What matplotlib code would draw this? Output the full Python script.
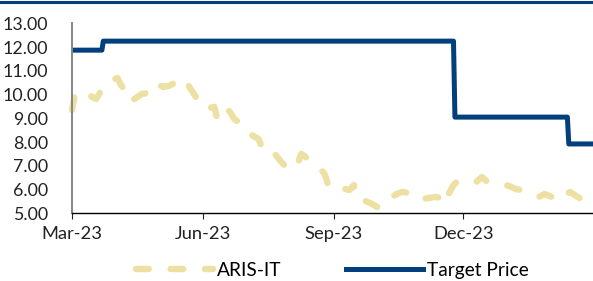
import numpy as np
import matplotlib
matplotlib.use("Agg")
import matplotlib.pyplot as plt
import matplotlib.dates as mdates
from matplotlib.lines import Line2D

plt.rcParams["font.family"] = ["Lato", "DejaVu Sans"]

# days counted from 1 Mar 2023
start = np.datetime64("2023-03-01")

aris_days = [0, 2, 5, 8, 13, 17, 20, 25, 28, 32, 34, 37, 39, 41, 45, 49, 53, 58, 60, 64,
             68, 72, 74, 78, 82, 87, 89, 92, 96, 100, 102, 104, 108, 111, 114, 118, 120,
             125, 131, 134, 137, 142, 147, 149, 152, 154, 157, 159, 161, 163, 166, 171,
             177, 179, 180, 185, 190, 192, 195, 198, 199, 202, 206, 211, 214, 218, 222,
             225, 228, 232, 236, 239, 241, 244, 247, 251, 256, 260, 262, 265, 268, 271,
             274, 277, 281, 284, 288, 291, 297, 302, 307, 312, 318, 323, 328, 332, 337,
             341, 346, 350, 354, 359, 361, 365]
aris_price = [9.35, 9.98, 10.15, 10.11, 9.94, 9.81, 10.11, 10.53, 10.61, 10.70, 10.44, 10.19,
              9.98, 9.69, 9.86, 10.02, 10.07, 10.11, 10.44, 10.32, 10.36, 10.49, 10.57, 10.70,
              10.36, 9.90, 9.60, 9.43, 9.43, 9.48, 8.97, 9.22, 9.43, 9.27, 8.97, 8.80, 8.55,
              8.34, 8.13, 7.71, 7.79, 7.54, 7.16, 7.04, 6.91, 7.12, 7.25, 7.16, 7.50, 7.42,
              7.29, 7.04, 6.70, 6.40, 6.11, 6.11, 6.11, 6.02, 5.98, 6.19, 5.69, 5.65, 5.52,
              5.39, 5.27, 5.27, 5.48, 5.69, 5.81, 5.90, 5.86, 5.86, 5.69, 5.65, 5.61, 5.65,
              5.69, 5.61, 5.39, 5.86, 6.19, 6.36, 6.40, 6.40, 6.36, 6.32, 6.53, 6.36, 6.32,
              6.23, 6.15, 6.02, 5.94, 5.86, 5.69, 5.81, 5.69, 5.52, 5.77, 5.90, 5.73, 5.56,
              5.86, 5.56]

target_days = [0, 21, 22, 268, 269, 348, 349, 368]
target_price = [11.87, 11.87, 12.25, 12.25, 9.05, 9.05, 7.92, 7.92]

xticks = ["2023-03-01", "2023-06-01", "2023-09-01", "2023-12-01"]

aris_dates = start + np.array(aris_days).astype("timedelta64[D]")
target_dates = start + np.array(target_days).astype("timedelta64[D]")

navy = "#023f7c"
sand = "#ece1a2"

fig = plt.figure(figsize=(5.93, 2.81), dpi=100)
ax = fig.add_axes([0.1214, 0.241, 0.8786, 0.676])

ax.plot(aris_dates, aris_price, color=sand, lw=4.6, dashes=(2.0, 3.4),
        dash_capstyle="round", solid_capstyle="round", label="ARIS-IT", clip_on=False)
ax.plot(target_dates, target_price, color=navy, lw=3.6, label="Target Price",
        solid_joinstyle="round")

ax.set_ylim(5, 13)
ax.set_yticks(np.arange(5, 13.5, 1))
ax.yaxis.set_major_formatter(matplotlib.ticker.FormatStrFormatter("%.2f"))
ax.set_xlim(start, start + np.timedelta64(366, "D"))
ax.set_xticks([np.datetime64(d) for d in xticks])
ax.xaxis.set_major_formatter(mdates.DateFormatter("%b-%y"))

for s in ["top", "right"]:
    ax.spines[s].set_visible(False)
ax.spines["left"].set_color("#868686")
ax.spines["left"].set_linewidth(1.4)
ax.spines["bottom"].set_color("black")
ax.spines["bottom"].set_linewidth(1.0)
ax.tick_params(axis="y", length=0, pad=17, labelsize=12.8, colors="#222222")
ax.tick_params(axis="x", length=4, width=0.8, pad=5, labelsize=13.2, colors="#222222")

ax.legend(loc="center", bbox_to_anchor=(0.5, -0.30), ncol=2, frameon=False,
          fontsize=13.8, handlelength=4.0, columnspacing=3.4, handletextpad=0.2,
          borderpad=0.2)

fig.add_artist(Line2D([0, 1], [0.994, 0.994], transform=fig.transFigure,
                      color=navy, lw=2.2))

plt.savefig("out.png", dpi=100)
